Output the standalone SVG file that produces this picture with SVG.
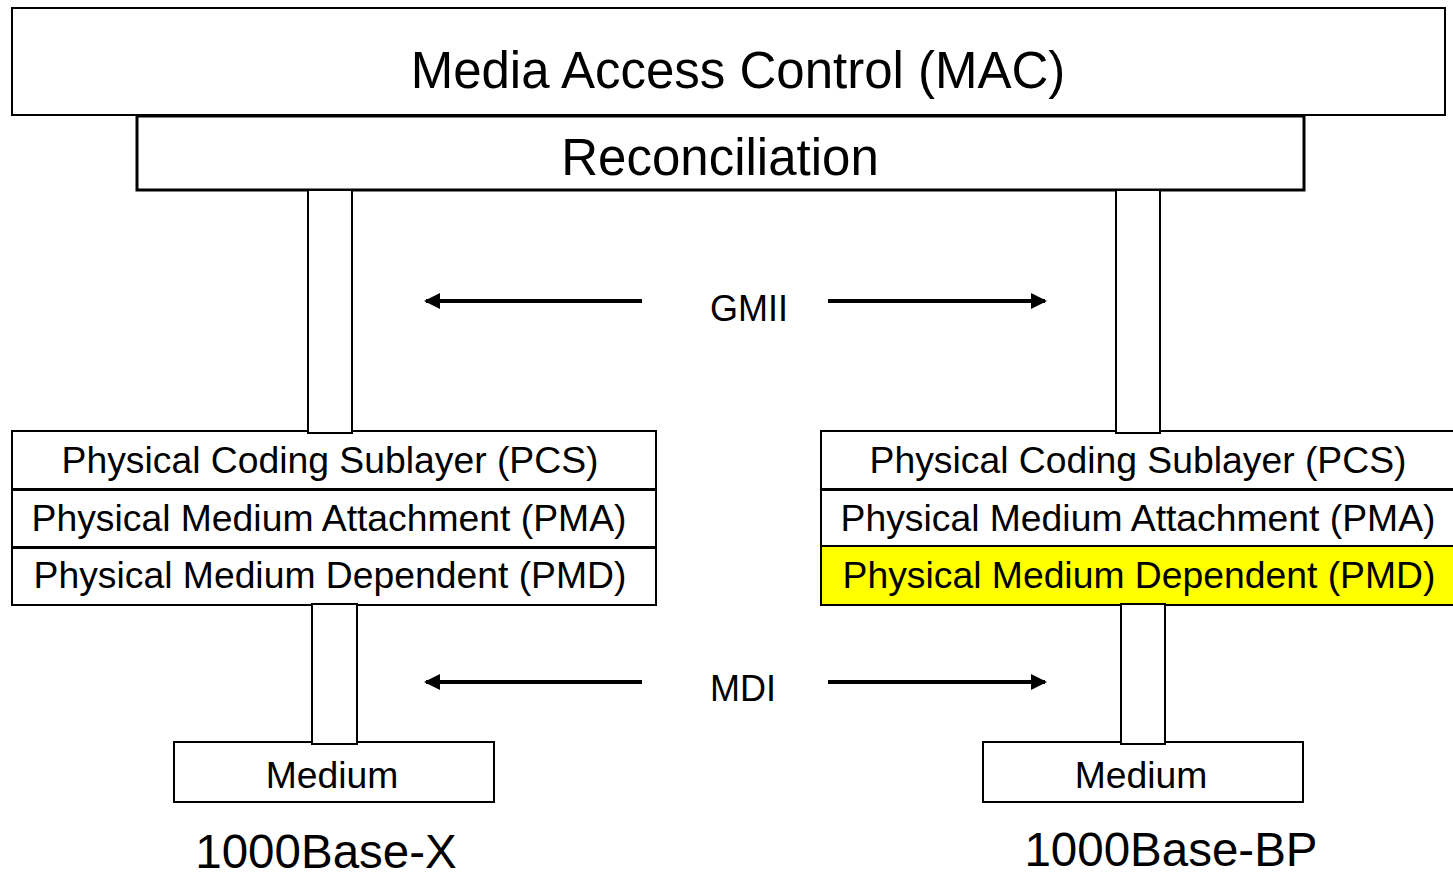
<svg xmlns="http://www.w3.org/2000/svg" width="1453" height="872" viewBox="0 0 1453 872">
  <style>
    .box { fill: #ffffff; stroke: #000000; stroke-width: 2; }
    .hl { fill: #ffff00; stroke: #000000; stroke-width: 2; }
    .txt { font-family: "Liberation Sans", Arial, sans-serif; fill: #000000; text-anchor: middle; }
    .big { font-size: 51px; }
    .mid { font-size: 37.3px; }
    .lbl { font-size: 47.5px; }
    .conn { stroke: #000000; stroke-width: 4; fill: none; marker-end: url(#head); }
  </style>
  <defs>
    <marker id="head" viewBox="0 0 16 16" refX="14" refY="8" markerWidth="16" markerHeight="16" markerUnits="userSpaceOnUse" orient="auto">
      <path d="M0,0 L16,8 L0,16 Z" fill="#000000"/>
    </marker>
  </defs>
  <rect width="1453" height="872" fill="#ffffff"/>

  <g id="mac">
    <rect class="box" x="12" y="8" width="1433" height="107"/>
    <text class="txt big" x="738" y="88">Media Access Control (MAC)</text>
  </g>
  <g id="reconciliation">
    <rect class="box" x="137" y="116" width="1167" height="74" style="stroke-width:3"/>
    <text class="txt big" x="720" y="175">Reconciliation</text>
  </g>

  <!-- 1000Base-X stack -->
  <g id="pcs-x">
    <rect class="box" x="12" y="431" width="644" height="58"/>
    <text class="txt mid" x="330" y="473">Physical Coding Sublayer (PCS)</text>
  </g>
  <g id="pma-x">
    <rect class="box" x="12" y="490" width="644" height="57"/>
    <text class="txt mid" x="329" y="531">Physical Medium Attachment (PMA)</text>
  </g>
  <g id="pmd-x">
    <rect class="box" x="12" y="548" width="644" height="57"/>
    <text class="txt mid" x="330" y="588">Physical Medium Dependent (PMD)</text>
  </g>

  <!-- 1000Base-BP stack -->
  <g id="pcs-bp">
    <rect class="box" x="821" y="431" width="644" height="58"/>
    <text class="txt mid" x="1138" y="473">Physical Coding Sublayer (PCS)</text>
  </g>
  <g id="pma-bp">
    <rect class="box" x="821" y="490" width="644" height="56"/>
    <text class="txt mid" x="1138" y="531">Physical Medium Attachment (PMA)</text>
  </g>
  <g id="pmd-bp">
    <rect class="hl" x="821" y="546" width="644" height="59"/>
    <text class="txt mid" x="1139" y="588">Physical Medium Dependent (PMD)</text>
  </g>

  <g id="medium-x">
    <rect class="box" x="174" y="742" width="320" height="60"/>
    <text class="txt mid" x="332" y="788">Medium</text>
  </g>
  <g id="medium-bp">
    <rect class="box" x="983" y="742" width="320" height="60"/>
    <text class="txt mid" x="1141" y="788">Medium</text>
  </g>

  <!-- vertical interface pillars, drawn over the layer boxes -->
  <g id="pillars">
    <rect class="box" x="308" y="190" width="44" height="243"/>
    <rect class="box" x="1116" y="190" width="44" height="243"/>
    <rect class="box" x="312" y="604" width="45" height="140"/>
    <rect class="box" x="1121" y="604" width="44" height="140"/>
  </g>

  <!-- interface arrows and labels -->
  <g id="connectors">
    <line class="conn" x1="642" y1="301" x2="426" y2="301"/>
    <line class="conn" x1="828" y1="301" x2="1045" y2="301"/>
    <line class="conn" x1="642" y1="682" x2="426" y2="682"/>
    <line class="conn" x1="828" y1="682" x2="1045" y2="682"/>
  </g>
  <g id="gmii">
    <text class="txt" style="font-size:36px" x="749" y="321">GMII</text>
  </g>
  <g id="mdi">
    <text class="txt" style="font-size:36px" x="743" y="701">MDI</text>
  </g>

  <g id="labels">
    <text class="txt lbl" x="326" y="868">1000Base-X</text>
    <text class="txt lbl" x="1171" y="866">1000Base-BP</text>
  </g>
</svg>
